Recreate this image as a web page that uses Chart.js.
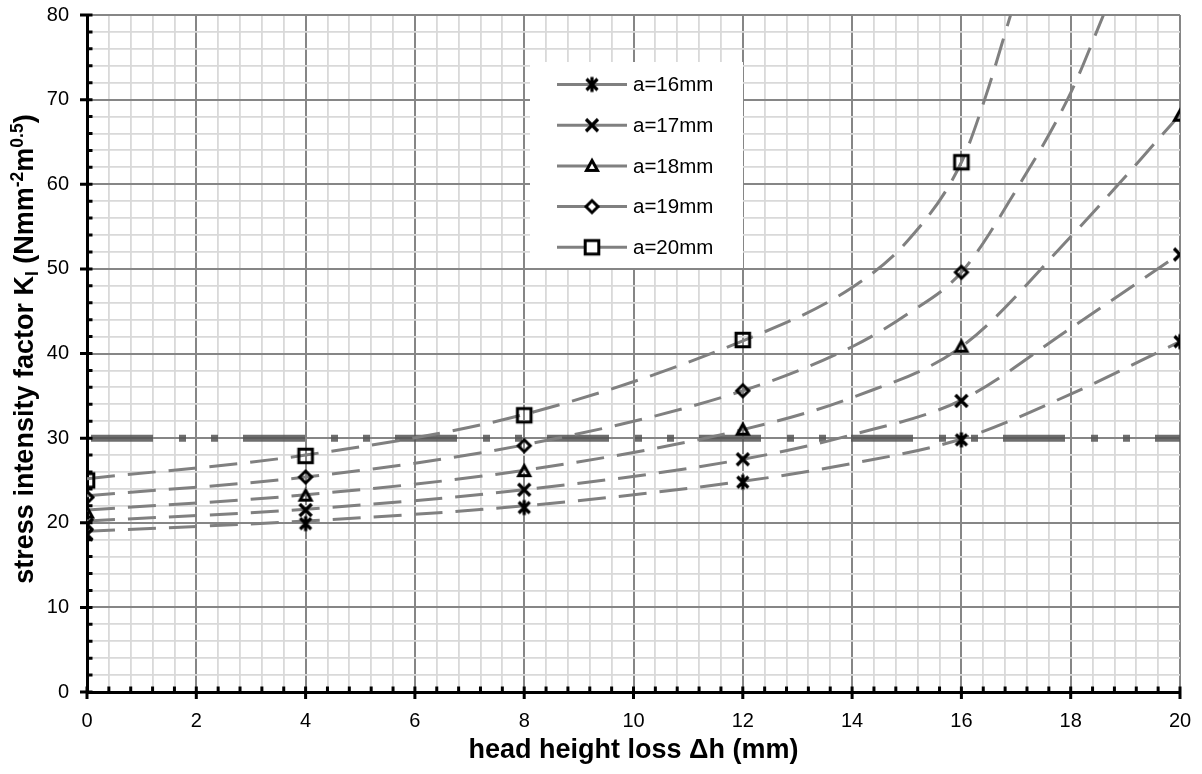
<!DOCTYPE html>
<html>
<head>
<meta charset="utf-8">
<script src="https://cdn.jsdelivr.net/npm/chart.js@4.4.1/dist/chart.umd.min.js"></script>
<style>
  html, body { margin: 0; padding: 0; background: #fff; }
</style>
</head>
<body>
<canvas id="chart" width="1202" height="774"></canvas>
<script>
// measured points
const headLoss = [0, 4, 8, 12, 16, 20];
const kA16 = [18.6, 19.9, 21.8, 24.8, 29.8, 41.4];
const kA17 = [19.8, 21.5, 23.9, 27.5, 34.4, 51.7];
const kA18 = [21.2, 23.2, 26.1, 31.0, 40.8, 68.1];
const kA19 = [23.0, 25.4, 29.1, 35.6, 49.6, null];
const kA20 = [25.0, 27.9, 32.7, 41.6, 62.6, null];

// trend lines, [x, y]
const trendA16 = [[0, 19.0], [4, 20.2], [8, 22.0], [12, 24.9], [14, 27.0], [16, 29.9], [18, 35.2], [20, 41.4]];
const trendA17 = [[0, 20.2], [4, 21.6], [8, 23.9], [12, 27.5], [14, 30.4], [16, 34.5], [18, 43.0], [20, 51.8]];
const trendA18 = [[0, 21.5], [4, 23.3], [8, 26.2], [12, 31.0], [14, 34.8], [16, 40.8], [18, 53.8], [20, 68.2]];
const trendA19 = [[0, 23.2], [4, 25.4], [8, 29.2], [12, 35.6], [14, 40.8], [15, 44.6], [16, 49.6], [17, 59.3], [18, 70.8], [18.6, 80]];
const trendA20 = [[0, 25.2], [4, 28.0], [8, 32.8], [12, 41.5], [14, 47.8], [15, 53.2], [16, 62.6], [16.45, 70.5], [16.9, 80]];

const limitK = 30;
const seriesNames = ['a=16mm', 'a=17mm', 'a=18mm', 'a=19mm', 'a=20mm'];
const markerKinds = ['star', 'cross', 'triangle', 'diamond', 'square'];

const FONT = "'Liberation Sans', Arial, sans-serif";

function isMultiple(v, step) {
    return Math.abs(v / step - Math.round(v / step)) < 1e-6;
}

function makeMarker(kind, fill) {
    const c = document.createElement('canvas');
    c.width = 22;
    c.height = 22;
    const g = c.getContext('2d');
    g.strokeStyle = '#000';
    g.lineWidth = 3;
    g.lineJoin = 'miter';
    g.beginPath();
    if (kind === 'square') {
        g.rect(4.2, 4.2, 13.6, 13.6);
    } else if (kind === 'diamond') {
        g.moveTo(11, 5); g.lineTo(17, 11); g.lineTo(11, 17); g.lineTo(5, 11); g.closePath();
    } else if (kind === 'triangle') {
        g.moveTo(11, 5.5); g.lineTo(16.5, 15.5); g.lineTo(5.5, 15.5); g.closePath();
    } else if (kind === 'cross') {
        g.lineWidth = 3.3;
        g.moveTo(5, 5); g.lineTo(17, 17); g.moveTo(17, 5); g.lineTo(5, 17);
    } else if (kind === 'star') {
        g.lineWidth = 3.2;
        g.moveTo(5.5, 5.5); g.lineTo(16.5, 16.5); g.moveTo(16.5, 5.5); g.lineTo(5.5, 16.5);
        g.moveTo(11, 3.5); g.lineTo(11, 18.5);
    }
    if (fill) {
        g.fillStyle = '#fff';
        g.fill();
    }
    g.stroke();
    return c;
}

const plotMarkers = markerKinds.map(k => makeMarker(k, false));
const legendMarkers = markerKinds.map(k => makeMarker(k, true));

function pointsOf(values) {
    const pts = [];
    values.forEach((v, i) => { if (v !== null) pts.push({ x: headLoss[i], y: v }); });
    return pts;
}

function pairsOf(pairs) {
    return pairs.map(p => ({ x: p[0], y: p[1] }));
}

const markerSeries = [kA16, kA17, kA18, kA19, kA20];
const trendSeries = [trendA16, trendA17, trendA18, trendA19, trendA20];

const datasets = [];

markerSeries.forEach((vals, i) => {
    datasets.push({
        label: seriesNames[i],
        data: pointsOf(vals),
        showLine: false,
        pointStyle: plotMarkers[i],
        pointRadius: 8,
        order: 0
    });
});

trendSeries.forEach((pairs, i) => {
    datasets.push({
        label: seriesNames[i] + ' trend',
        data: pairsOf(pairs),
        showLine: true,
        borderColor: '#808080',
        borderWidth: 3,
        borderDash: [28, 13],
        cubicInterpolationMode: 'monotone',
        pointRadius: 0,
        order: 1
    });
});

datasets.push({
    label: 'limit',
    data: [{ x: 0, y: limitK }, { x: 20, y: limitK }],
    showLine: true,
    borderColor: 'rgba(85,85,85,0.85)',
    borderWidth: 7,
    borderDash: [62, 26, 7, 25, 7, 25],
    borderDashOffset: -4,
    pointRadius: 0,
    order: 2
});

// small black tick marks on the two black axes
const axisTicks = {
    id: 'axisTicks',
    afterDraw(chart) {
        const { ctx, chartArea: a, scales: { x, y } } = chart;
        ctx.save();
        ctx.strokeStyle = '#000';
        ctx.lineWidth = 3;
        ctx.beginPath();
        x.ticks.forEach(t => {
            const px = x.getPixelForValue(t.value);
            const major = isMultiple(t.value, 2);
            ctx.moveTo(px, a.bottom - 5.5);
            ctx.lineTo(px, a.bottom + (major ? 7 : 0));
        });
        y.ticks.forEach(t => {
            const py = y.getPixelForValue(t.value);
            const major = isMultiple(t.value, 10);
            ctx.moveTo(a.left + 5.5, py);
            ctx.lineTo(a.left - (major ? 7 : 0), py);
        });
        ctx.stroke();
        ctx.restore();
    }
};

// y title with sub/superscripts
const yTitle = {
    id: 'yTitle',
    afterDraw(chart) {
        const ctx = chart.ctx;
        const size = 27;
        const small = 17.5;
        const parts = [
            { t: 'stress intensity factor K', k: 'n' },
            { t: 'I', k: 'sub' },
            { t: ' (Nmm', k: 'n' },
            { t: '-2', k: 'sup' },
            { t: 'm', k: 'n' },
            { t: '0.5', k: 'sup' },
            { t: ')', k: 'n' }
        ];
        ctx.save();
        let total = 0;
        parts.forEach(p => {
            ctx.font = 'bold ' + (p.k === 'n' ? size : small) + 'px ' + FONT;
            p.w = ctx.measureText(p.t).width;
            total += p.w;
        });
        ctx.translate(33, 349);
        ctx.rotate(-Math.PI / 2);
        ctx.fillStyle = '#000';
        ctx.textBaseline = 'alphabetic';
        ctx.textAlign = 'left';
        let cx = -total / 2;
        parts.forEach(p => {
            ctx.font = 'bold ' + (p.k === 'n' ? size : small) + 'px ' + FONT;
            const dy = p.k === 'sub' ? 5 : (p.k === 'sup' ? -10 : 0);
            ctx.fillText(p.t, cx, dy);
            cx += p.w;
        });
        ctx.restore();
    }
};

// legend: line sample with marker in the middle
const lineLegend = {
    id: 'lineLegend',
    afterDraw(chart) {
        const ctx = chart.ctx;
        const box = { x: 530, y: 62, w: 213, h: 206 };
        ctx.save();
        ctx.fillStyle = '#fff';
        ctx.fillRect(box.x, box.y, box.w, box.h);
        ctx.font = '20.5px ' + FONT;
        ctx.textBaseline = 'middle';
        seriesNames.forEach((name, i) => {
            const ry = 84.5 + i * 40.7;
            ctx.strokeStyle = '#808080';
            ctx.lineWidth = 3;
            ctx.beginPath();
            ctx.moveTo(557, ry);
            ctx.lineTo(627, ry);
            ctx.stroke();
            const m = legendMarkers[i];
            ctx.drawImage(m, 592 - m.width / 2, ry - m.height / 2);
            ctx.fillStyle = '#000';
            ctx.fillText(name, 633, ry + 1);
        });
        ctx.restore();
    }
};

new Chart(document.getElementById('chart'), {
    type: 'scatter',
    data: { datasets: datasets },
    options: {
        responsive: false,
        animation: false,
        layout: { padding: { top: 15, right: 22, left: 0, bottom: 0 } },
        plugins: {
            legend: { display: false },
            tooltip: { enabled: false }
        },
        scales: {
            x: {
                type: 'linear',
                min: 0,
                max: 20,
                afterFit: s => { s.height = 82; s.paddingLeft = 0; s.paddingRight = 0; },
                ticks: {
                    stepSize: 0.4,
                    autoSkip: false,
                    maxRotation: 0,
                    padding: 17,
                    color: '#000',
                    font: { family: FONT, size: 20 },
                    callback: v => isMultiple(v, 2) ? String(Math.round(v)) : ''
                },
                grid: {
                    drawTicks: false,
                    color: c => isMultiple(c.tick.value, 2) ? '#868686' : '#d9d9d9',
                    lineWidth: c => isMultiple(c.tick.value, 2) ? 2 : 1.8
                },
                border: { color: '#000', width: 3 },
                title: {
                    display: true,
                    text: 'head height loss Δh (mm)',
                    color: '#000',
                    font: { family: FONT, size: 27, weight: 'bold' },
                    padding: { top: 0, bottom: 7 }
                }
            },
            y: {
                min: 0,
                max: 80,
                afterFit: s => { s.width = 87; s.paddingTop = 0; s.paddingBottom = 0; },
                ticks: {
                    stepSize: 2,
                    autoSkip: false,
                    padding: 18,
                    color: '#000',
                    font: { family: FONT, size: 20 },
                    callback: v => isMultiple(v, 10) ? String(Math.round(v)) : ''
                },
                grid: {
                    drawTicks: false,
                    color: c => isMultiple(c.tick.value, 10) ? '#868686' : '#d9d9d9',
                    lineWidth: c => isMultiple(c.tick.value, 10) ? 2 : 1.8
                },
                border: { color: '#000', width: 3 }
            }
        }
    },
    plugins: [axisTicks, yTitle, lineLegend]
});
</script>
</body>
</html>
